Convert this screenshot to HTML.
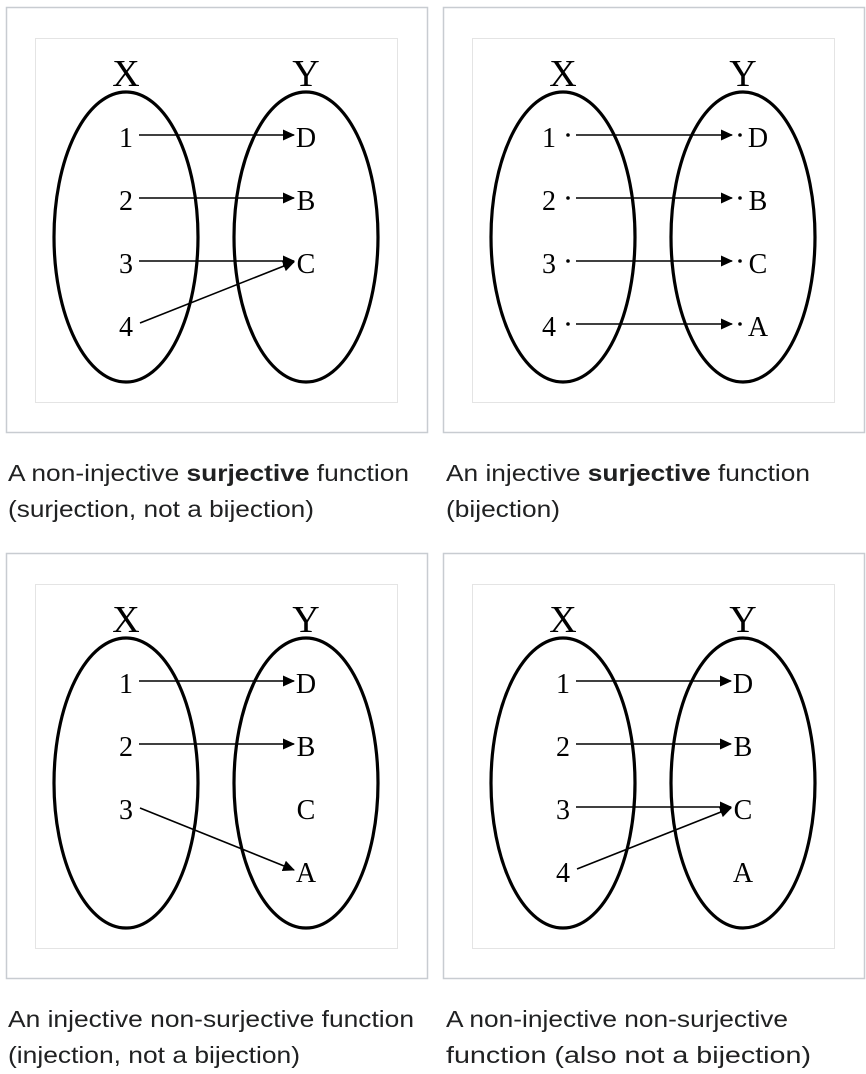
<!DOCTYPE html>
<html><head><meta charset="utf-8"><style>
html,body{margin:0;padding:0;background:#fff;width:866px;height:1074px;overflow:hidden}
</style></head><body>
<svg width="866" height="1074" viewBox="0 0 866 1074" xmlns="http://www.w3.org/2000/svg">
<defs>
<marker id="ah" markerWidth="12" markerHeight="12" refX="11" refY="6" orient="auto" markerUnits="userSpaceOnUse">
<path d="M0,0.5 L12,6 L0,11.5 z" fill="#000"/>
</marker>
<g id="frame">
<rect x="6.5" y="7.5" width="421" height="425" fill="none" stroke="#c8ccd1" stroke-width="1.5"/>
<rect x="35.5" y="38.5" width="362" height="364" fill="none" stroke="#e4e4e4" stroke-width="1"/>
<ellipse cx="126" cy="237" rx="72" ry="145" fill="none" stroke="#000" stroke-width="3.2"/>
<ellipse cx="306" cy="237" rx="72" ry="145" fill="none" stroke="#000" stroke-width="3.2"/>
<text x="126" y="86" font-family="Liberation Serif, serif" font-size="38" text-anchor="middle">X</text>
<text x="306" y="86" font-family="Liberation Serif, serif" font-size="38" text-anchor="middle">Y</text>
</g>
</defs>
<g font-family="Liberation Serif, serif" font-size="28" text-anchor="middle" stroke-width="1.6">
<use href="#frame"/>
<text x="126" y="147">1</text><text x="126" y="210">2</text><text x="126" y="273">3</text><text x="126" y="336">4</text>
<text x="306" y="147">D</text><text x="306" y="210">B</text><text x="306" y="273">C</text>
<line x1="139" y1="135" x2="294" y2="135" stroke="#000" marker-end="url(#ah)"/>
<line x1="139" y1="198" x2="294" y2="198" stroke="#000" marker-end="url(#ah)"/>
<line x1="139" y1="261" x2="294" y2="261" stroke="#000" marker-end="url(#ah)"/>
<line x1="140" y1="323" x2="294" y2="262" stroke="#000" marker-end="url(#ah)"/>
<g transform="translate(437,0)">
<use href="#frame"/>
<text x="112" y="147">1</text><text x="112" y="210">2</text><text x="112" y="273">3</text><text x="112" y="336">4</text>
<text x="321" y="147">D</text><text x="321" y="210">B</text><text x="321" y="273">C</text><text x="321" y="336">A</text>
<g fill="#000">
<circle cx="131" cy="135" r="1.8"/><circle cx="131" cy="198" r="1.8"/><circle cx="131" cy="261" r="1.8"/><circle cx="131" cy="324" r="1.8"/>
<circle cx="303" cy="135" r="1.8"/><circle cx="303" cy="198" r="1.8"/><circle cx="303" cy="261" r="1.8"/><circle cx="303" cy="324" r="1.8"/>
</g>
<line x1="139" y1="135" x2="295" y2="135" stroke="#000" marker-end="url(#ah)"/>
<line x1="139" y1="198" x2="295" y2="198" stroke="#000" marker-end="url(#ah)"/>
<line x1="139" y1="261" x2="295" y2="261" stroke="#000" marker-end="url(#ah)"/>
<line x1="139" y1="324" x2="295" y2="324" stroke="#000" marker-end="url(#ah)"/>
</g>
<g transform="translate(0,546)">
<use href="#frame"/>
<text x="126" y="147">1</text><text x="126" y="210">2</text><text x="126" y="273">3</text>
<text x="306" y="147">D</text><text x="306" y="210">B</text><text x="306" y="273">C</text><text x="306" y="336">A</text>
<line x1="139" y1="135" x2="294" y2="135" stroke="#000" marker-end="url(#ah)"/>
<line x1="139" y1="198" x2="294" y2="198" stroke="#000" marker-end="url(#ah)"/>
<line x1="140" y1="262" x2="294" y2="324" stroke="#000" marker-end="url(#ah)"/>
</g>
<g transform="translate(437,546)">
<use href="#frame"/>
<text x="126" y="147">1</text><text x="126" y="210">2</text><text x="126" y="273">3</text><text x="126" y="336">4</text>
<text x="306" y="147">D</text><text x="306" y="210">B</text><text x="306" y="273">C</text><text x="306" y="336">A</text>
<line x1="139" y1="135" x2="294" y2="135" stroke="#000" marker-end="url(#ah)"/>
<line x1="139" y1="198" x2="294" y2="198" stroke="#000" marker-end="url(#ah)"/>
<line x1="139" y1="261" x2="294" y2="261" stroke="#000" marker-end="url(#ah)"/>
<line x1="140" y1="323" x2="294" y2="262" stroke="#000" marker-end="url(#ah)"/>
</g>
</g>
<g font-family="Liberation Sans, sans-serif" font-size="23" fill="#202122" lengthAdjust="spacingAndGlyphs">
<text x="8" y="481" textLength="401" lengthAdjust="spacingAndGlyphs">A non-injective <tspan font-weight="bold">surjective</tspan> function</text>
<text x="8" y="517" textLength="306" lengthAdjust="spacingAndGlyphs">(surjection, not a bijection)</text>
<text x="446" y="481" textLength="364" lengthAdjust="spacingAndGlyphs">An injective <tspan font-weight="bold">surjective</tspan> function</text>
<text x="446" y="517" textLength="114" lengthAdjust="spacingAndGlyphs">(bijection)</text>
<text x="8" y="1027" textLength="406" lengthAdjust="spacingAndGlyphs">An injective non-surjective function</text>
<text x="8" y="1063" textLength="292" lengthAdjust="spacingAndGlyphs">(injection, not a bijection)</text>
<text x="446" y="1027" textLength="342" lengthAdjust="spacingAndGlyphs">A non-injective non-surjective</text>
<text x="446" y="1063" textLength="365" lengthAdjust="spacingAndGlyphs">function (also not a bijection)</text>
</g>
</svg>
</body></html>
